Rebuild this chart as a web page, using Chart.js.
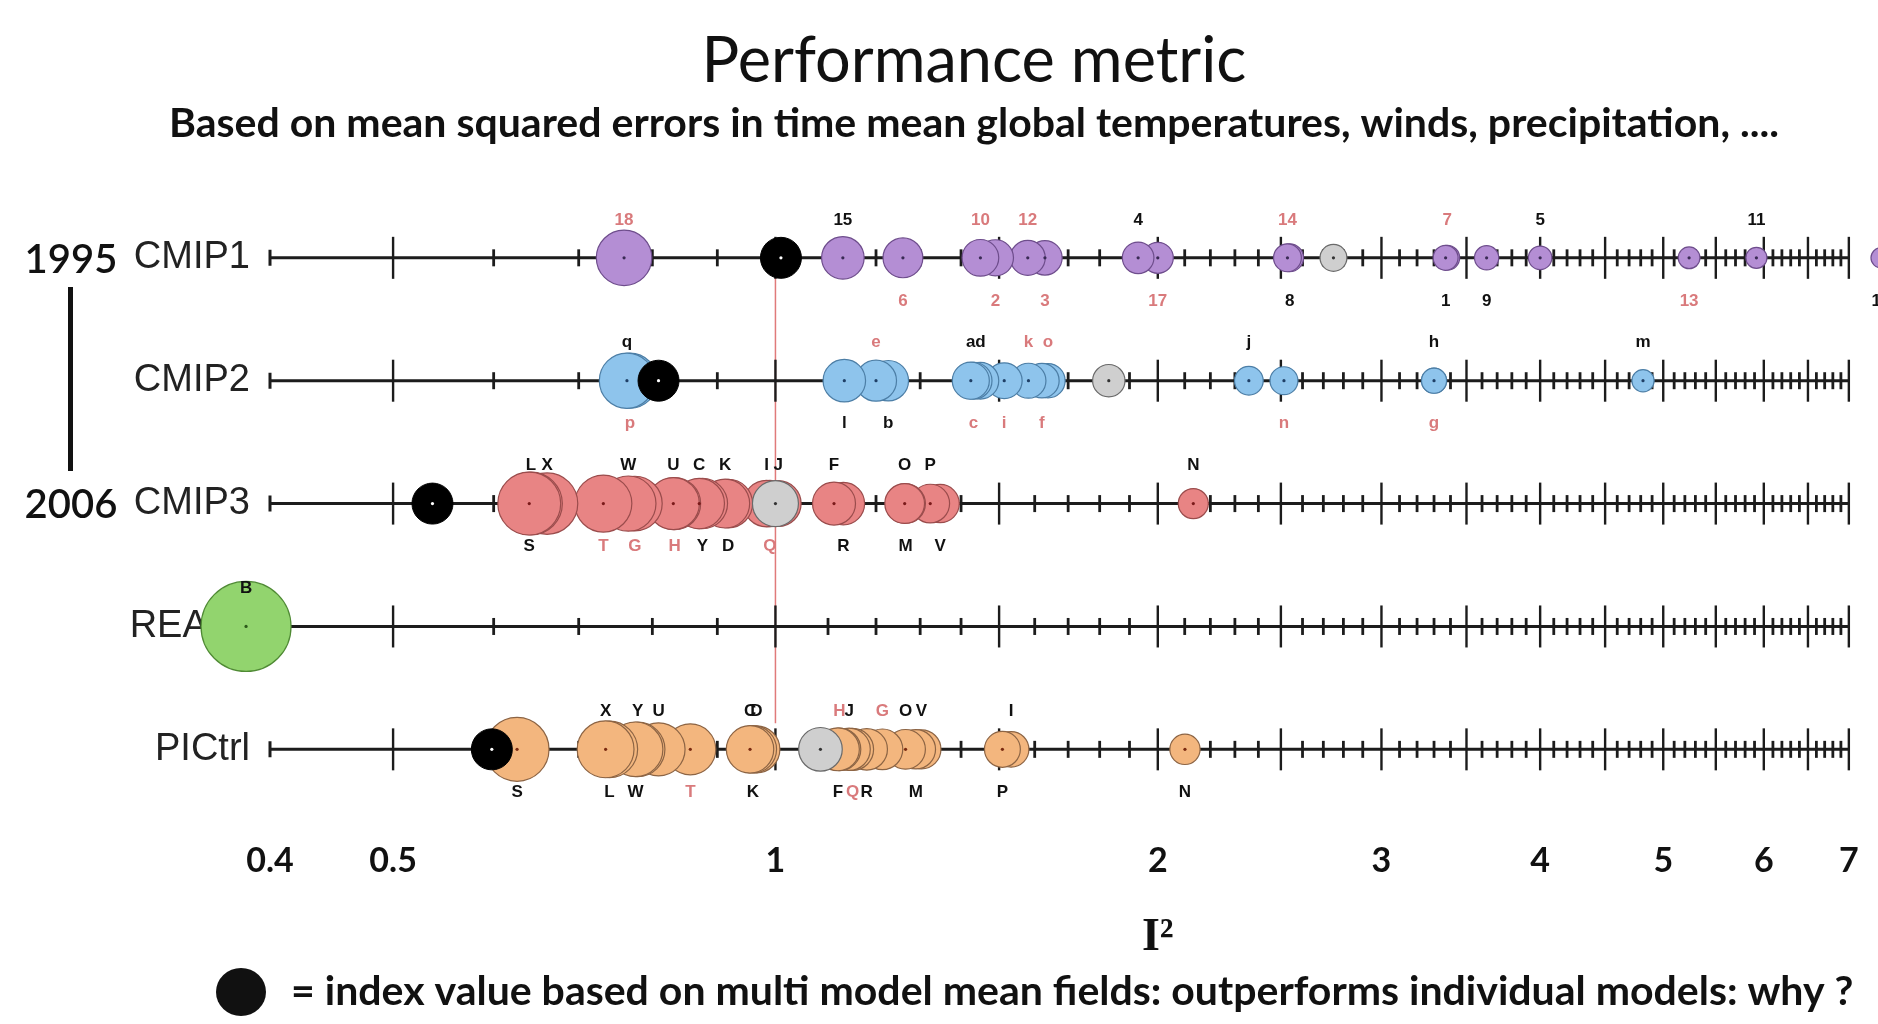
<!DOCTYPE html>
<html>
<head>
<meta charset="utf-8">
<title>Performance metric</title>
<script src="https://cdn.jsdelivr.net/npm/chart.js@4.4.1/dist/chart.umd.min.js"></script>
<style>
  html, body { margin: 0; padding: 0; background: #fff; }
  #wrap { width: 1878px; height: 1024px; }
</style>
</head>
<body>
<div id="wrap"><canvas id="chart" width="1878" height="1024"></canvas></div>
<script>
// rows and x axis labels
const rowNames = ['CMIP1', 'CMIP2', 'CMIP3', 'REA', 'PICtrl'];
const xTickValues = [0.4, 0.5, 1, 2, 3, 4, 5, 6, 7];

// I^2 per model
const cmip1Models = ['18', '15', '6', '10', '2', '12', '3', '4', '17', '14', '8', '7', '1', '9', '5', '13', '11', '16'];
const cmip1Values = [0.76, 1.13, 1.26, 1.45, 1.49, 1.58, 1.63, 1.93, 2.00, 2.53, 2.54, 3.38, 3.37, 3.63, 4.00, 5.24, 5.92, 7.42];

const cmip2Models = ['q', 'p', 'l', 'e', 'b', 'a', 'd', 'c', 'i', 'k', 'f', 'o', 'j', 'n', 'h', 'g', 'm'];
const cmip2Values = [0.764, 0.768, 1.133, 1.20, 1.227, 1.425, 1.45, 1.432, 1.514, 1.582, 1.621, 1.639, 2.359, 2.514, 3.30, 3.30, 4.82];

const cmip3Models = ['S', 'L', 'X', 'T', 'W', 'G', 'U', 'H', 'C', 'Y', 'K', 'D', 'I', 'Q', 'J', 'F', 'R', 'O', 'M', 'P', 'V', 'N'];
const cmip3Values = [0.640, 0.642, 0.661, 0.732, 0.766, 0.775, 0.831, 0.833, 0.871, 0.876, 0.913, 0.918, 0.984, 0.990, 1.005, 1.112, 1.131, 1.264, 1.266, 1.324, 1.348, 2.133];

const reaModels = ['B'];
const reaValues = [0.383];

const picModels = ['S', 'X', 'L', 'W', 'Y', 'U', 'T', 'C', 'K', 'D', 'F', 'H', 'J', 'Q', 'R', 'G', 'O', 'M', 'V', 'P', 'I', 'N'];
const picValues = [0.626, 0.735, 0.740, 0.776, 0.779, 0.809, 0.857, 0.955, 0.960, 0.966, 1.120, 1.123, 1.143, 1.150, 1.180, 1.214, 1.266, 1.290, 1.303, 1.509, 1.533, 2.101];

// multi model mean field index (black) and the grey marker, per row (null = none)
const meanFieldValues = [1.01, 0.809, 0.537, null, 0.598];
const greyValues = [2.75, 1.83, 1.00, null, 1.085];

// label placement / tint (style only)
const labelsAbove = [
  '18 15 10 12 4 14 7 5 11',
  'q e a d k o j h m',
  'L X W U C K I J F O P N',
  'B',
  'X Y U C D H J G O V I'
].map(s => s.split(' '));
const labelsRed = [
  '18 6 10 2 12 3 17 14 7 13',
  'p e c i k f o n g',
  'T G H Q',
  '',
  'T H Q G'
].map(s => s.split(' '));

const rowFill = ['#b48ed4', '#8ec4ec', '#e88484', '#92d46e', '#f3b67e'];
const rowEdge = ['#6e4d8c', '#4c7ea6', '#9a4c4c', '#4f8a34', '#8c6444'];
const rowDot = ['#3a2a55', '#1f3f66', '#7a1a1a', '#2d5a1a', '#7a2a10'];

const rows = [
  [cmip1Models, cmip1Values],
  [cmip2Models, cmip2Values],
  [cmip3Models, cmip3Values],
  [reaModels, reaValues],
  [picModels, picValues]
];

const bubbleR = v => Math.min(45, 8 + 15 / v);

const datasets = rows.map(([names, vals], i) => ({
  label: rowNames[i],
  order: 2,
  data: names.map((n, k) => ({ x: vals[k], y: i, name: n }))
              .sort((a, b) => b.x - a.x),
  backgroundColor: rowFill[i],
  borderColor: rowEdge[i],
  borderWidth: 1.2,
  radius: c => bubbleR(c.raw.x),
  clip: false,
  dot: rowDot[i],
  row: i
}));

datasets.push({
  label: 'grey',
  order: 1,
  data: greyValues.map((v, i) => v == null ? null : { x: v, y: i }).filter(Boolean),
  backgroundColor: '#cfcfcf',
  borderColor: '#6a6a6a',
  borderWidth: 1.2,
  radius: c => bubbleR(c.raw.x),
  clip: false,
  dot: '#333'
});
datasets.push({
  label: 'mean field',
  order: 0,
  data: meanFieldValues.map((v, i) => v == null ? null : { x: v, y: i }).filter(Boolean),
  backgroundColor: '#000',
  borderColor: '#000',
  borderWidth: 1,
  radius: 20.5,
  clip: false,
  dot: '#fff'
});

const rowDecor = {
  id: 'rowDecor',
  beforeDatasetsDraw(chart) {
    const { ctx, scales: { x, y } } = chart;
    ctx.save();
    // red line at I^2 = 1
    ctx.strokeStyle = '#e07a7a';
    ctx.lineWidth = 1.5;
    ctx.beginPath();
    ctx.moveTo(x.getPixelForValue(1), y.getPixelForValue(0));
    ctx.lineTo(x.getPixelForValue(1), y.getPixelForValue(4) - 26);
    ctx.stroke();

    ctx.strokeStyle = '#1c1c1c';
    rowNames.forEach((_, i) => {
      const py = y.getPixelForValue(i);
      const x0 = x.getPixelForValue(0.4), x1 = x.getPixelForValue(7);
      ctx.lineWidth = 3;
      ctx.beginPath();
      ctx.moveTo(x0, py); ctx.lineTo(x1, py);
      ctx.moveTo(x0, py - 8); ctx.lineTo(x0, py + 8);
      ctx.stroke();
      for (let k = 5; k <= 70; k++) {
        const px = x.getPixelForValue(k / 10);
        const major = k % 5 === 0;
        const h = major ? 21 : 8.5;
        ctx.lineWidth = major ? 2.4 : 2.8;
        ctx.beginPath();
        ctx.moveTo(px, py - h); ctx.lineTo(px, py + h);
        ctx.stroke();
      }
    });
    ctx.restore();
  },
  afterDatasetsDraw(chart) {
    const { ctx } = chart;
    ctx.save();
    // centre dots, only where the bubble centre is not covered by a later bubble
    const drawn = [];
    chart.data.datasets.forEach((ds, di) => {
      chart.getDatasetMeta(di).data.forEach(el => drawn.push({ el, dot: ds.dot }));
    });
    drawn.forEach((d, n) => {
      const hidden = drawn.slice(n + 1).some(o =>
        Math.hypot(o.el.x - d.el.x, o.el.y - d.el.y) < o.el.options.radius - 2);
      if (hidden) return;
      ctx.fillStyle = d.dot;
      ctx.beginPath();
      ctx.arc(d.el.x, d.el.y, 1.6, 0, Math.PI * 2);
      ctx.fill();
    });
    ctx.font = 'bold 17px "Liberation Sans", Arial, sans-serif';
    ctx.textAlign = 'center';
    ctx.textBaseline = 'middle';
    chart.data.datasets.forEach((ds, di) => {
      if (ds.row === undefined) return;
      const meta = chart.getDatasetMeta(di);
      meta.data.forEach((el, k) => {
        const name = ds.data[k].name;
        const above = labelsAbove[ds.row].includes(name);
        ctx.fillStyle = labelsRed[ds.row].includes(name) ? '#d97a7c' : '#111';
        ctx.fillText(name, el.x, el.y + (above ? -38 : 43));
      });
    });
    ctx.restore();
  },
  afterDraw(chart) {
    const { ctx, scales: { x, y } } = chart;
    ctx.save();
    ctx.fillStyle = '#111';
    ctx.font = '600 40px Lato, sans-serif';
    ctx.textAlign = 'center';
    ctx.textBaseline = 'middle';
    ctx.fillText('1995', 71, y.getPixelForValue(0) + 2);
    ctx.fillText('2006', 71, y.getPixelForValue(2) + 2);
    ctx.fillRect(68, 287, 5, 184);

    ctx.font = 'bold 46px "Liberation Serif", serif';
    ctx.fillText('I²', x.getPixelForValue(2), 938);

    ctx.beginPath();
    ctx.ellipse(241, 992, 25, 24, 0, 0, Math.PI * 2);
    ctx.fill();
    ctx.textAlign = 'left';
    ctx.font = 'bold 41px Lato, sans-serif';
    ctx.fillText('= index value based on multi model mean fields: outperforms individual models: why ?', 291, 992);
    ctx.restore();
  }
};

new Chart(document.getElementById('chart').getContext('2d'), {
  type: 'bubble',
  data: { datasets },
  options: {
    responsive: false,
    animation: false,
    events: [],
    layout: { autoPadding: false, padding: { left: 70, right: 0, top: 0, bottom: 133 } },
    plugins: {
      legend: { display: false },
      tooltip: { enabled: false },
      title: {
        display: true,
        text: 'Performance metric',
        color: '#111',
        font: { family: 'Lato', size: 63, weight: 'normal' },
        padding: { top: 24, bottom: 0 }
      },
      subtitle: {
        display: true,
        text: 'Based on mean squared errors in time mean global temperatures, winds, precipitation, ....',
        color: '#111',
        font: { family: 'Lato', size: 41, weight: 'bold' },
        padding: { top: 0, bottom: 31 }
      }
    },
    scales: {
      x: {
        type: 'logarithmic',
        min: 0.4,
        max: 7.38,
        grid: { display: false, drawTicks: false },
        border: { display: false },
        afterBuildTicks: s => { s.ticks = xTickValues.map(v => ({ value: v })); },
        ticks: {
          autoSkip: false,
          maxRotation: 0,
          padding: 10,
          color: '#111',
          font: { family: 'Lato', size: 34, weight: 'bold' },
          callback: v => String(v)
        }
      },
      y: {
        type: 'linear',
        reverse: true,
        min: -0.635,
        max: 4.658,
        grid: { display: false, drawTicks: false },
        border: { display: false },
        afterFit: s => { s.width = 200; },
        afterBuildTicks: s => { s.ticks = rowNames.map((_, i) => ({ value: i })); },
        ticks: {
          padding: 20,
          color: '#222',
          font: { family: '"Liberation Sans"', size: 38 },
          // REA sits a little further left, clear of the big reanalysis bubble
          callback: v => rowNames[v] === 'REA' ? 'REA    ' : rowNames[v]
        }
      }
    }
  },
  plugins: [rowDecor]
});
</script>
</body>
</html>
